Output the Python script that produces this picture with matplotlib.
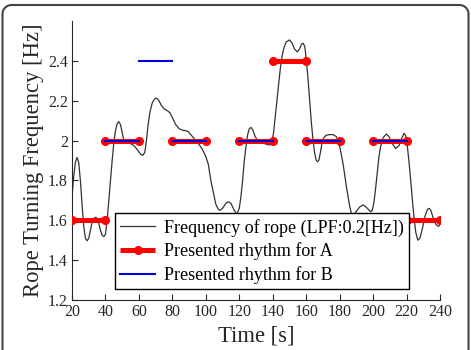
import matplotlib
matplotlib.use("Agg")
import matplotlib.pyplot as plt

plt.rcParams['font.family'] = ['Liberation Serif', 'DejaVu Serif']

# Measured rope turning frequency (LPF 0.2 Hz)
time_s = [20, 21, 22, 23, 24, 25, 26, 27, 28, 29, 30, 31, 32, 33, 34.3, 35.5, 37, 38, 39, 40,
          41, 42, 43, 44, 45, 46, 47, 48, 49, 50, 51, 53, 55, 57, 59, 61, 62.3, 63.5, 64.5, 65.5,
          66.5, 68, 69.5, 70.6, 72, 73.5, 75, 77, 78.5, 80, 82, 84, 86, 88, 89.5, 91, 92.5, 94,
          96, 98, 100, 101.5, 103, 104.5, 106, 107.5, 108.5, 110, 112, 113.5, 115, 117, 118.5,
          120, 121, 122, 123, 124, 125, 126, 127, 128, 129.5, 131, 133, 135, 137, 138.4, 139.5,
          140.5, 141.5, 142.5, 143.5, 144.5, 145.5, 146.5, 148, 150, 151.5, 153, 154.7, 156,
          157.3, 158.3, 159.2, 160, 161, 162, 163, 164, 165, 166, 166.8, 167.5, 168.5, 169.5,
          170.5, 172, 174, 176, 178, 179, 180, 181, 182, 183, 184, 185, 186, 187.2, 188.5, 190,
          192, 194, 196, 198.5, 199.5, 200.5, 201.5, 202.5, 203.5, 204.5, 206, 208, 209.5, 211,
          213.5, 215.5, 217, 218.5, 219.5, 220.5, 221.5, 222.5, 223.5, 224.5, 225.5, 226.7, 228,
          229.5, 231, 232.5, 233.5, 234.5, 236, 237.5, 239, 240]
freq_hz = [1.72, 1.82, 1.89, 1.915, 1.89, 1.80, 1.68, 1.57, 1.51, 1.497, 1.51, 1.55, 1.59, 1.61,
           1.615, 1.60, 1.55, 1.525, 1.518, 1.53, 1.60, 1.70, 1.80, 1.90, 1.99, 2.05, 2.085, 2.095,
           2.08, 2.04, 2.00, 1.99, 1.985, 1.975, 1.955, 1.932, 1.926, 1.94, 2.00, 2.08, 2.14, 2.19,
           2.21, 2.213, 2.20, 2.175, 2.16, 2.15, 2.14, 2.115, 2.08, 2.06, 2.052, 2.05, 2.045, 2.03,
           2.015, 2.00, 1.98, 1.955, 1.92, 1.88, 1.80, 1.74, 1.68, 1.655, 1.65, 1.66, 1.685, 1.693,
           1.685, 1.65, 1.63, 1.66, 1.72, 1.80, 1.90, 1.97, 2.03, 2.06, 2.066, 2.055, 2.02, 2.00,
           1.99, 1.985, 1.98, 1.978, 1.99, 2.04, 2.12, 2.20, 2.28, 2.36, 2.42, 2.46, 2.495, 2.505,
           2.49, 2.46, 2.445, 2.46, 2.485, 2.488, 2.47, 2.41, 2.32, 2.21, 2.10, 2.01, 1.94, 1.90,
           1.894, 1.90, 1.94, 1.99, 2.015, 2.027, 2.03, 2.03, 2.02, 2.00, 1.97, 1.93, 1.885, 1.83,
           1.77, 1.72, 1.67, 1.627, 1.63, 1.645, 1.667, 1.677, 1.665, 1.643, 1.65, 1.69, 1.76,
           1.84, 1.92, 1.97, 2.015, 2.033, 2.02, 1.99, 1.96, 1.975, 2.01, 2.036, 2.025, 1.97, 1.89,
           1.80, 1.70, 1.61, 1.54, 1.50, 1.51, 1.56, 1.62, 1.655, 1.66, 1.65, 1.61, 1.58, 1.57,
           1.575]

# Presented rhythm for A: (start, end, frequency)
a_start = [20, 40, 80, 120, 140, 160, 200, 220]
a_end = [40, 60, 100, 140, 160, 180, 220, 240]
a_freq = [1.6, 2.0, 2.0, 2.0, 2.4, 2.0, 2.0, 1.6]

# Presented rhythm for B
b_start = [40, 60, 80, 120, 160, 200]
b_end = [60, 80, 100, 140, 180, 220]
b_freq = [2.0, 2.4, 2.0, 2.0, 2.0, 2.0]

x_ticks = [20, 40, 60, 80, 100, 120, 140, 160, 180, 200, 220, 240]
y_ticks = [1.2, 1.4, 1.6, 1.8, 2.0, 2.2, 2.4]
y_tick_labels = ['1.2', '1.4', '1.6', '1.8', '2', '2.2', '2.4']

W, H = 471, 350
fig = plt.figure(figsize=(W / 100, H / 100), dpi=100)

# Background axes covering the whole figure, used only for the rounded border
bg = fig.add_axes([0, 0, 1, 1], zorder=-1)
bg.set_xlim(0, W)
bg.set_ylim(0, H)
bg.axis('off')
xl, xr, yt, rr = 2.5, W - 2.5, H - 5, 9
arc_c = [0.0, 0.29, 0.5, 0.71, 0.87, 0.97, 1.0]
arc_s = [1.0, 0.96, 0.87, 0.71, 0.5, 0.26, 0.0]
left_corner_x = [xl + rr - rr * c for c in arc_c]
left_corner_y = [yt - rr + rr * s for s in arc_s]
border_x = [xl] + left_corner_x[::-1] + [W - v for v in left_corner_x] + [xr]
border_y = [-10] + left_corner_y[::-1] + left_corner_y + [-10]
bg.plot(border_x, border_y, color='#444444', lw=1.5, solid_joinstyle='round')

ax = fig.add_axes([0.1529, 0.1429, 0.7813, 0.797])

ax.plot(time_s, freq_hz, color='#333333', lw=0.9, zorder=2,
        label='Frequency of rope (LPF:0.2[Hz])')

for i, (s, e, f) in enumerate(zip(a_start, a_end, a_freq)):
    ax.plot([s, e], [f, f], color='red', lw=3.6, marker='o', markersize=5.5,
            solid_capstyle='butt', zorder=3,
            label='Presented rhythm for A' if i == 0 else None)
for i, (s, e, f) in enumerate(zip(b_start, b_end, b_freq)):
    ax.plot([s, e], [f, f], color='#0000dd', lw=1.5, zorder=4,
            label='Presented rhythm for B' if i == 0 else None)

ax.set_xlim(20, 240)
ax.set_ylim(1.2, 2.6)
ax.set_xticks(x_ticks)
ax.set_yticks(y_ticks)
ax.set_yticklabels(y_tick_labels)
ax.tick_params(direction='in', length=4, width=0.8, colors='#262626',
               labelsize=11.5, labelcolor='#262626', pad=3)
for sp in ['top', 'right']:
    ax.spines[sp].set_visible(False)
for sp in ['left', 'bottom']:
    ax.spines[sp].set_color('#262626')
    ax.spines[sp].set_linewidth(0.8)
ax.patch.set_alpha(0)

ax.set_xlabel('Time [s]', fontsize=16.3, color='#262626', labelpad=4)
ax.set_ylabel('Rope Turning Frequency [Hz]', fontsize=16.3, color='#262626', labelpad=3)

leg = ax.legend(loc='lower left', bbox_to_anchor=(0.117, 0.038), borderaxespad=0,
                fontsize=13, frameon=True, fancybox=False, framealpha=1,
                edgecolor='black', handlelength=1.9, labelspacing=0.32,
                borderpad=0.3, handletextpad=0.5, numpoints=1)
leg.get_frame().set_linewidth(1.0)
leg.set_zorder(10)

fig.savefig('out.png', dpi=100)
